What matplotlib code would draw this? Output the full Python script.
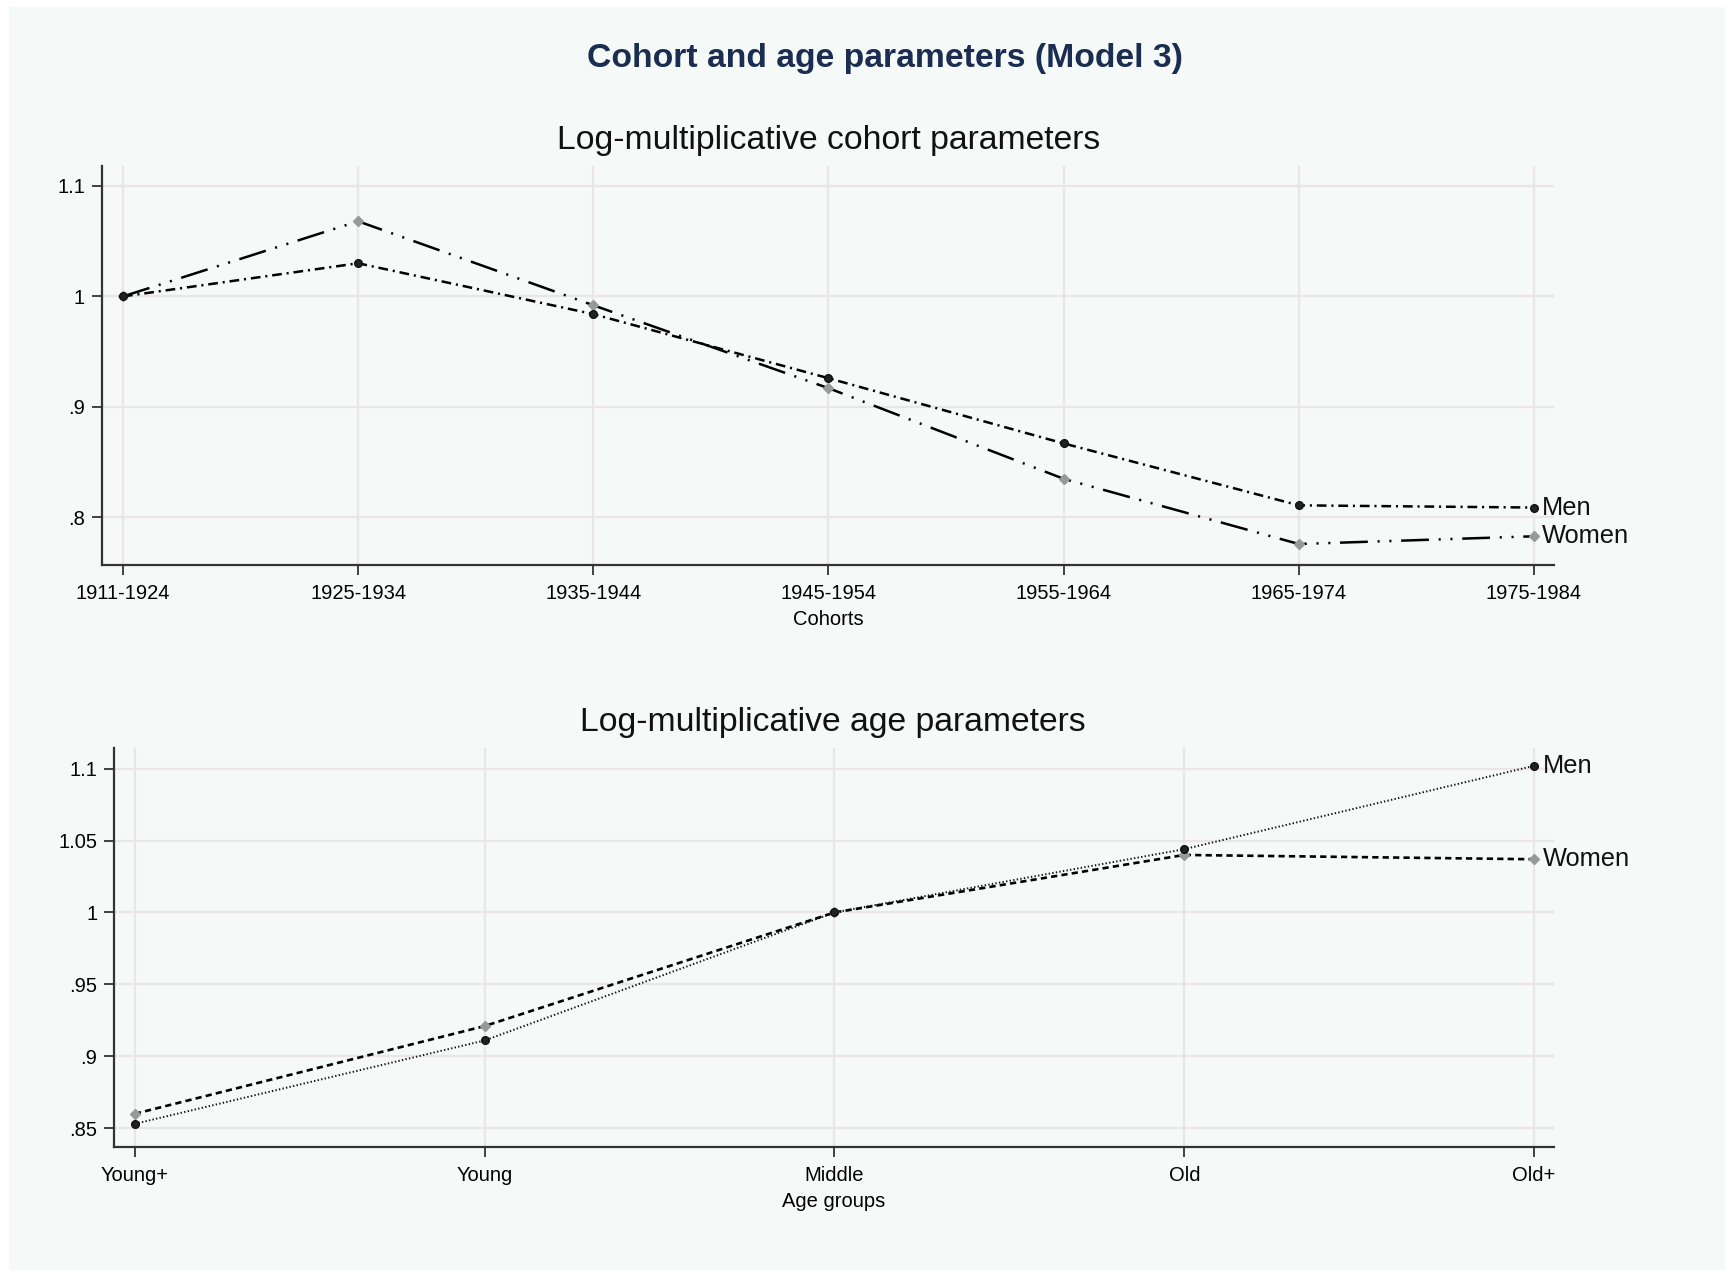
import matplotlib
matplotlib.use('Agg')
import matplotlib.pyplot as plt
from matplotlib.patches import Rectangle

plt.rcParams['font.family'] = ['Liberation Sans', 'DejaVu Sans']
plt.rcParams['lines.scale_dashes'] = False

# cohort parameters
cohorts = ['1911-1924', '1925-1934', '1935-1944', '1945-1954', '1955-1964', '1965-1974', '1975-1984']
cohort_men = [1.000, 1.030, 0.984, 0.926, 0.867, 0.811, 0.809]
cohort_women = [1.000, 1.068, 0.992, 0.917, 0.835, 0.776, 0.783]
cohort_yticks = [0.8, 0.9, 1.0, 1.1]
cohort_ylabels = ['.8', '.9', '1', '1.1']

# age parameters
ages = ['Young+', 'Young', 'Middle', 'Old', 'Old+']
age_men = [0.853, 0.911, 1.000, 1.044, 1.102]
age_women = [0.860, 0.921, 1.000, 1.040, 1.037]
age_yticks = [0.85, 0.9, 0.95, 1.0, 1.05, 1.1]
age_ylabels = ['.85', '.9', '.95', '1', '1.05', '1.1']

BG = '#f5f9f7'
GRID = '#ebe5ea'
SPINE = '#333333'


def style_axes(ax, labels, yticks, ylabels, xlabel):
    ax.set_facecolor(BG)
    x = range(len(labels))
    ax.set_xticks(list(x))
    ax.set_xticklabels(labels, fontsize=14.5)
    ax.set_yticks(yticks)
    ax.set_yticklabels(ylabels, fontsize=14.5)
    ax.set_xlabel(xlabel, fontsize=14.5, labelpad=5)
    ax.grid(True, color=GRID, linewidth=1.6)
    ax.set_axisbelow(True)
    for s in ['top', 'right']:
        ax.spines[s].set_visible(False)
    for s in ['left', 'bottom']:
        ax.spines[s].set_color(SPINE)
        ax.spines[s].set_linewidth(1.6)
    ax.tick_params(axis='x', direction='out', length=7, width=1.3, color=SPINE, pad=7)
    ax.tick_params(axis='y', direction='out', length=7, width=1.3, color=SPINE, pad=5)


def end_label(ax, x, y, text):
    ax.annotate(text, (x, y), xytext=(6, 0), textcoords='offset points',
                va='center', ha='left', fontsize=18.3, color='#111111',
                annotation_clip=False)


fig = plt.figure(figsize=(17.34, 12.72), dpi=100)
fig.patch.set_facecolor('white')
fig.patches.append(Rectangle((9 / 1734, 2 / 1272), 1716 / 1734, 1263 / 1272,
                             transform=fig.transFigure, facecolor=BG,
                             edgecolor='none', zorder=-10))

fig.text(0.5102, 0.954, 'Cohort and age parameters (Model 3)', ha='center', va='center',
         fontsize=24.3, fontweight='bold', color='#1c2d52')

# top panel
ax1 = fig.add_axes([0.0587, 0.5558, 0.8375, 0.3137])
xc = list(range(len(cohorts)))
ax1.plot(xc, cohort_women, color='black', linewidth=1.8,
         dashes=(20, 7, 1.5, 7, 1.5, 7), marker='D', markersize=5.5,
         markerfacecolor='#999999', markeredgecolor='#999999', zorder=3)
ax1.plot(xc, cohort_men, color='black', linewidth=1.8,
         dashes=(7, 3.5, 1.5, 3.5), marker='o', markersize=5.5,
         markerfacecolor='#222222', markeredgecolor='#111111', zorder=4)
ax1.set_xlim(-0.09, 6.085)
ax1.set_ylim(0.757, 1.118)
style_axes(ax1, cohorts, cohort_yticks, cohort_ylabels, 'Cohorts')
end_label(ax1, xc[-1], cohort_men[-1], 'Men')
end_label(ax1, xc[-1], cohort_women[-1], 'Women')
fig.text(0.4777, 0.8895, 'Log-multiplicative cohort parameters', ha='center', va='center',
         fontsize=24.3, color='#111111')

# bottom panel
ax2 = fig.add_axes([0.0657, 0.0984, 0.8305, 0.3138])
xa = list(range(len(ages)))
ax2.plot(xa, age_women, color='black', linewidth=1.9,
         dashes=(4.5, 3), marker='D', markersize=5.5,
         markerfacecolor='#999999', markeredgecolor='#999999', zorder=3)
ax2.plot(xa, age_men, color='#111111', linewidth=1.4,
         dashes=(1, 1.6), marker='o', markersize=5.5,
         markerfacecolor='#222222', markeredgecolor='#111111', zorder=4)
ax2.set_xlim(-0.06, 4.057)
ax2.set_ylim(0.837, 1.1146)
style_axes(ax2, ages, age_yticks, age_ylabels, 'Age groups')
end_label(ax2, xa[-1], age_men[-1], 'Men')
end_label(ax2, xa[-1], age_women[-1], 'Women')
fig.text(0.4805, 0.4323, 'Log-multiplicative age parameters', ha='center', va='center',
         fontsize=24.3, color='#111111')

fig.savefig('out.png', dpi=100, facecolor='white')
